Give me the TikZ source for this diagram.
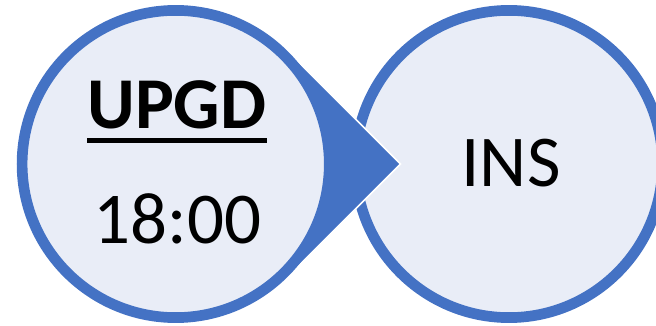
\documentclass[tikz,border=0pt]{standalone}
\usepackage{fontspec}
\setmainfont{Carlito}
\definecolor{ringblue}{HTML}{4472C4}
\definecolor{lightfill}{HTML}{E9EDF7}
\begin{document}
\begin{tikzpicture}[x=1pt,y=-1pt,
  ring/.style={circle, draw=ringblue, fill=lightfill, line width=10.7pt, minimum size=307.2pt, inner sep=0pt},
  pointer/.style={fill=ringblue, draw=white, line width=1.6pt, line join=miter},
  txt/.style={font=\fontsize{73}{80}\selectfont, inner sep=0pt, anchor=base},
  boldtxt/.style={txt, font=\bfseries\fontsize{73}{80}\selectfont},
  uline/.style={line width=4.7pt, line cap=butt}]
\useasboundingbox (0,0) rectangle (656,326);
\clip (0,0) rectangle (656,326);
\node[ring] (right) at (509,164) {};
\coordinate (lc) at (175.7,164);
\coordinate (tip) at (400.6,164);
\coordinate (tt) at (288.1,51.6);
\coordinate (tb) at (288.1,276.4);
\draw[pointer] (tt) -- (tip) -- (tb) -- cycle;
\node[ring] (left) at (lc) {};
\node[boldtxt] (upgd) at (177,129) {UPGD};
\draw[uline] ([yshift=-11.5pt]upgd.base west) -- ([yshift=-11.5pt]upgd.base east);
\node[txt] (time) at (177.7,243.5) {18:00};
\node[txt] (ins) at (511,186.6) {INS};
\end{tikzpicture}
\end{document}
